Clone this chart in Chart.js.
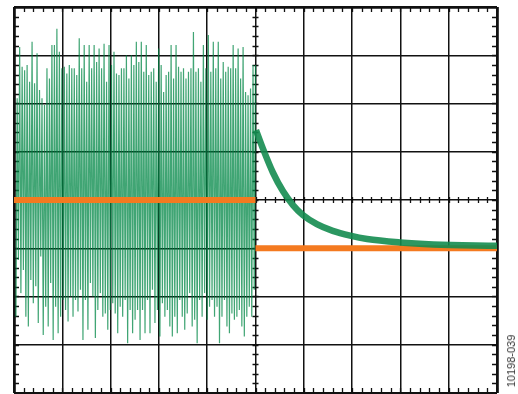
<!DOCTYPE html>
<html>
<head>
<meta charset="utf-8">
<script src="https://cdn.jsdelivr.net/npm/chart.js@4/dist/chart.umd.min.js"></script>
<style>
  html, body { margin: 0; padding: 0; background: #fff; }
  #wrap { position: relative; width: 518px; height: 394px; }
  #figId {
    position: absolute; left: 511px; top: 361px;
    transform: translate(-50%, -50%) rotate(-90deg);
    font: 11px "Liberation Sans", Arial, sans-serif; color: #333; white-space: nowrap;
  }
</style>
</head>
<body>
<div id="wrap">
  <canvas id="scope" width="518" height="394"></canvas>
  <div id="figId">10198-039</div>
</div>
<script>
// screen is 10 x 8 divisions, centre = 0
const xDivs = [0, 10];
const yDivs = [-4, 4];

const spikeTops = [2.11, 3.17, 2.76, 2.69, 2.80, 2.45, 3.28, 2.42, 3.04, 2.28, 2.11, 1.97, 2.73, 2.52, 3.21, 3.21,
  3.55, 3.07, 2.73, 2.76, 2.62, 2.80, 2.73, 2.73, 2.59, 3.35, 2.73, 3.21, 2.45, 3.21, 2.73, 3.21,
  2.86, 3.14, 2.73, 3.24, 2.45, 3.21, 2.80, 3.07, 2.62, 2.59, 2.73, 2.73, 3.00, 2.52, 3.00, 2.80,
  3.28, 2.86, 3.28, 2.66, 3.21, 2.59, 2.66, 2.73, 2.45, 3.14, 2.80, 2.24, 2.59, 2.66, 3.21, 2.52,
  3.21, 2.76, 2.66, 2.73, 2.52, 2.66, 2.73, 3.48, 2.66, 2.73, 2.45, 3.21, 2.73, 3.42, 2.66, 3.28,
  2.73, 3.28, 2.52, 2.86, 2.66, 2.76, 2.73, 3.21, 2.73, 3.14, 2.52, 3.17, 2.24, 2.17, 2.31, 2.80, 2.80];
const spikeBottoms = [-2.42, -1.24, -1.93, -1.45, -2.42, -2.62, -1.66, -2.14, -1.79, -2.55, -1.17, -2.80, -2.21, -2.62, -1.72, -2.90,
  -2.21, -2.76, -2.42, -2.07, -2.28, -2.52, -2.00, -2.42, -2.07, -2.31, -1.86, -2.90, -2.07, -2.69, -1.72, -2.00,
  -2.86, -2.28, -1.93, -2.42, -2.35, -2.69, -2.28, -2.14, -2.35, -2.76, -2.21, -2.42, -2.07, -2.97, -2.28, -2.76,
  -2.48, -2.28, -2.90, -2.28, -2.76, -2.07, -2.76, -1.86, -2.55, -2.28, -2.83, -2.14, -2.42, -2.28, -2.62, -2.83,
  -2.42, -2.76, -2.07, -2.42, -2.69, -2.35, -1.93, -2.62, -2.48, -2.97, -2.07, -2.42, -1.93, -2.48, -2.21, -2.07,
  -2.42, -2.21, -2.97, -2.42, -2.07, -2.62, -2.76, -2.35, -2.48, -2.42, -2.28, -2.62, -2.83, -2.42, -2.21, -2.42, -1.86];

// right half: decaying trace (x div, y div)
const decayX = [5.01, 5.16, 5.36, 5.57, 5.78, 5.98, 6.27, 6.60, 6.96, 7.31, 7.99, 8.68, 10.0];
const decayY = [1.45, 1.05, 0.57, 0.18, -0.11, -0.31, -0.50, -0.64, -0.74, -0.81, -0.88, -0.92, -0.95];

// orange trace: level before and after the step at 5 div
const orangeX = [0, 5, 5, 5, 10];
const orangeY = [0, 0, null, -1.0, -1.0];

const noisy = [];
const n = Math.min(spikeTops.length, spikeBottoms.length);
for (let i = 0; i < n; i++) {
    noisy.push(spikeBottoms[i]);
    noisy.push(spikeTops[i]);
}
const step = 5 / (noisy.length - 1);
const noisyPts = noisy.map((v, i) => ({ x: 0.04 + i * step * 0.992, y: v }));
const decayPts = decayX.map((x, i) => ({ x: x, y: decayY[i] }));
const orangePts = orangeX.map((x, i) => ({ x: x, y: orangeY[i] }));

const minorTicks = {
    id: 'minorTicks',
    beforeDatasetsDraw(chart) {
        const ctx = chart.ctx;
        const xs = chart.scales.x, ys = chart.scales.y;
        const a = chart.chartArea;
        const cx = xs.getPixelForValue(5), cy = ys.getPixelForValue(0);
        ctx.save();
        ctx.strokeStyle = '#111';
        ctx.lineWidth = 1.3;
        ctx.beginPath();
        for (let v = 0.2; v < 10; v += 0.2) {
            const px = Math.round(xs.getPixelForValue(v)) + 0.5;
            ctx.moveTo(px, a.top); ctx.lineTo(px, a.top + 5);
            ctx.moveTo(px, a.bottom); ctx.lineTo(px, a.bottom - 5);
            ctx.moveTo(px, cy - 3); ctx.lineTo(px, cy + 3);
        }
        for (let v = -3.8; v < 4; v += 0.2) {
            const py = Math.round(ys.getPixelForValue(v)) + 0.5;
            ctx.moveTo(a.left, py); ctx.lineTo(a.left + 5, py);
            ctx.moveTo(a.right, py); ctx.lineTo(a.right - 5, py);
            ctx.moveTo(cx - 3, py); ctx.lineTo(cx + 3, py);
        }
        ctx.stroke();
        ctx.restore();
    }
};

const gridWidth = (edges) => (c) => (edges.includes(c.tick.value) ? 2.8 : 1.5);

new Chart(document.getElementById('scope'), {
    type: 'line',
    data: {
        datasets: [
            {
                data: decayPts,
                borderColor: 'rgba(20, 140, 80, 0.9)',
                borderWidth: 6.5,
                pointRadius: 0,
                cubicInterpolationMode: 'monotone'
            },
            {
                data: orangePts,
                borderColor: '#f47a20',
                borderWidth: 6,
                pointRadius: 0,
                spanGaps: false
            },
            {
                data: noisyPts,
                borderColor: 'rgba(0, 135, 70, 0.75)',
                borderWidth: 1.2,
                pointRadius: 0,
                tension: 0
            }
        ]
    },
    options: {
        responsive: false,
        animation: false,
        events: [],
        layout: { padding: { left: 14, right: 21, top: 7, bottom: 1 } },
        plugins: { legend: { display: false }, tooltip: { enabled: false } },
        scales: {
            x: {
                type: 'linear', min: xDivs[0], max: xDivs[1],
                ticks: { display: false, stepSize: 1 },
                grid: { color: '#111', lineWidth: gridWidth(xDivs), drawTicks: false },
                border: { display: false }
            },
            y: {
                type: 'linear', min: yDivs[0], max: yDivs[1],
                ticks: { display: false, stepSize: 1 },
                grid: { color: '#111', lineWidth: gridWidth(yDivs), drawTicks: false },
                border: { display: false }
            }
        }
    },
    plugins: [minorTicks]
});
</script>
</body>
</html>
